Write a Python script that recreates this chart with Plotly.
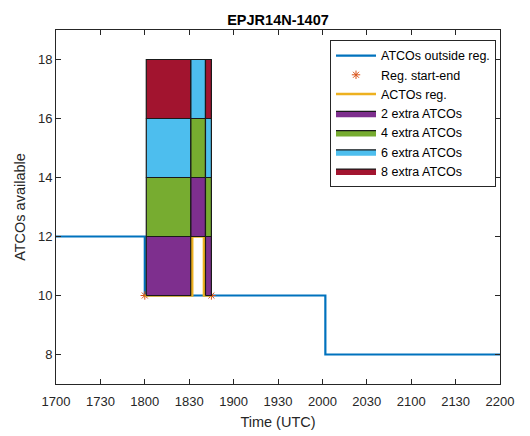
import plotly.graph_objects as go

# ---------------- data ----------------
x_ticks = ["1700", "1730", "1800", "1830", "1900", "1930",
           "2000", "2030", "2100", "2130", "2200"]
y_ticks = [8, 10, 12, 14, 16, 18]

outside_t = ["1700", "1800", "1800", "2002", "2002", "2200"]
outside_v = [12, 12, 10, 10, 8, 8]

reg_marker_t = ["1800", "1845"]
reg_marker_v = [10, 10]

reg_t = ["1800", "1832", "1832", "1840", "1840", "1845"]
reg_v = [10, 10, 12, 12, 10, 10]

seg_start = ["1801", "1831", "1841"]
seg_end = ["1831", "1841", "1845"]
seg_base = [10, 12, 10]

extra_names = ["2 extra ATCOs", "4 extra ATCOs", "6 extra ATCOs", "8 extra ATCOs"]
extra_step = [2, 2, 2, 2]
cap_max = 18


def to_min(hhmm):
    h, m = int(hhmm[:2]), int(hhmm[2:])
    return (h - 17) * 60 + m


# ---------------- style ----------------
C_BLUE = "#0072BD"
C_ORANGE = "#D95319"
C_YELLOW = "#EDB120"
extra_colors = ["#7E2F8E", "#77AC30", "#4DBEEE", "#A2142F"]
AX = "#262626"
FONT = "Liberation Sans, Arial, sans-serif"

fig = go.Figure()

fig.add_trace(go.Scatter(
    x=[to_min(t) for t in outside_t], y=outside_v, mode="lines",
    line=dict(color=C_BLUE, width=2.2), name="ATCOs outside reg."))

fig.add_trace(go.Scatter(
    x=[to_min(t) for t in reg_marker_t], y=reg_marker_v, mode="markers",
    marker=dict(symbol="asterisk-open", size=7, color=C_ORANGE,
                line=dict(color=C_ORANGE, width=1)),
    name="Reg. start-end"))

fig.add_trace(go.Scatter(
    x=[to_min(t) for t in reg_t], y=reg_v, mode="lines",
    line=dict(color=C_YELLOW, width=2.6), name="ACTOs reg."))

for j, (name, col) in enumerate(zip(extra_names, extra_colors)):
    xs, ys = [], []
    for s, e, b in zip(seg_start, seg_end, seg_base):
        lo = b + sum(extra_step[:j])
        hi = lo + extra_step[j]
        if hi > cap_max:
            continue
        x0, x1 = to_min(s), to_min(e)
        xs += [x0, x1, x1, x0, x0, None]
        ys += [lo, lo, hi, hi, lo, None]
    fig.add_trace(go.Scatter(
        x=xs, y=ys, mode="lines", fill="toself", fillcolor=col,
        line=dict(color="#1a1a1a", width=1.2), name=name))

fig.update_layout(
    width=530, height=436,
    margin=dict(l=46, r=38, t=22, b=60),
    paper_bgcolor="white", plot_bgcolor="white",
    font=dict(family=FONT, size=13, color=AX),
    title=dict(text="<b>EPJR14N-1407</b>", x=0.5, xref="paper", xanchor="center",
               y=1, yref="paper", yanchor="bottom", pad=dict(b=5),
               font=dict(size=14.5, color="#000000")),
    showlegend=True,
    legend=dict(x=0.991, xanchor="right", y=0.972, yanchor="top",
                bgcolor="white", bordercolor="#262626", borderwidth=1,
                font=dict(size=12.5, color="#000000"), itemwidth=40,
                tracegroupgap=0),
)

fig.update_xaxes(
    range=[0, 300], tickvals=[to_min(t) for t in x_ticks], ticktext=x_ticks,
    showgrid=False, zeroline=False, showline=True, linecolor=AX, linewidth=1,
    mirror="ticks", ticks="inside", ticklen=5, tickcolor=AX, ticklabelstandoff=5,
    title=dict(text="Time (UTC)", font=dict(size=14.5), standoff=9),
)
fig.update_yaxes(
    range=[7, 19], tickvals=y_ticks,
    showgrid=False, zeroline=False, showline=True, linecolor=AX, linewidth=1,
    mirror="ticks", ticks="inside", ticklen=5, tickcolor=AX,
    title=dict(text="ATCOs available", font=dict(size=14.5), standoff=8),
)

fig.write_html("out.html")
